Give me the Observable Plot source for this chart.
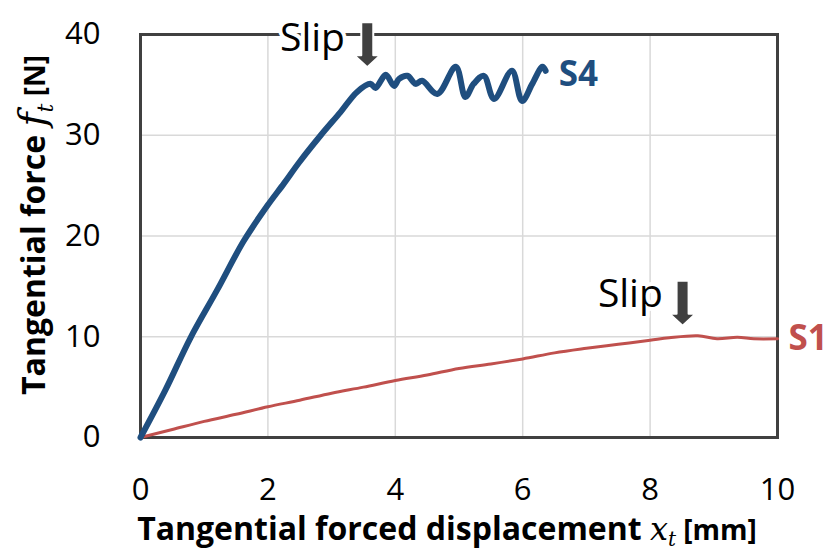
<!DOCTYPE html>
<html><head><meta charset="utf-8">
<script src="https://cdn.jsdelivr.net/npm/d3@7"></script>
<script src="https://cdn.jsdelivr.net/npm/@observablehq/plot@0.6"></script>
<style>body{margin:0;background:#fff}#chart{width:831px;height:554px}</style>
</head><body><div id="chart"></div>
<script>
// S4 series (tangential forced displacement [mm], tangential force [N])
const s4X = [0, 0.39, 0.785, 1.2, 1.62, 1.99, 2.25, 2.49, 2.83, 3.14, 3.40, 3.61, 3.69, 3.85, 3.98, 4.06, 4.19, 4.32, 4.42, 4.66, 4.95, 5.10, 5.23, 5.39, 5.55, 5.83, 5.99, 6.15, 6.31, 6.36];
const s4Y = [0, 4.7, 9.9, 14.6, 19.5, 23.0, 25.2, 27.3, 30.0, 32.3, 34.3, 35.1, 34.7, 36.0, 34.9, 35.6, 35.9, 35.1, 35.4, 34.1, 36.8, 33.8, 35.1, 35.9, 33.6, 36.4, 33.4, 35.1, 36.8, 36.4];
// S1 series
const s1X = [0, 0.5, 1, 1.5, 2, 2.5, 3, 3.5, 4, 4.5, 5, 5.5, 6, 6.5, 7, 7.5, 8, 8.3, 8.75, 9.05, 9.37, 9.63, 10];
const s1Y = [0, 0.8, 1.6, 2.3, 3.05, 3.7, 4.4, 5.0, 5.65, 6.2, 6.85, 7.3, 7.8, 8.4, 8.85, 9.25, 9.65, 9.9, 10.1, 9.8, 9.95, 9.8, 9.8];

const xTicks = [0, 2, 4, 6, 8, 10];
const yTicks = [0, 10, 20, 30, 40];
const seriesNames = ["S4", "S1"];
const slipLabels = ["Slip", "Slip"];
const slipLabelX = [2.70, 7.69];
const slipLabelY = [39.65, 14.24];
const arrowTipX = [3.56, 8.51];
const arrowTipY = [36.75, 11.1];

const BLUE = "#1f4e7f", RED = "#c0504d", DARK = "#404040";
const FONT = "'Open Sans', sans-serif";

const s4 = s4X.map((x, i) => ({x, y: s4Y[i]}));
const s1 = s1X.map((x, i) => ({x, y: s1Y[i]}));
const s4Label = [{name: seriesNames[0], x: s4X[s4X.length - 1], y: s4Y[s4Y.length - 1]}];
const s1Label = [{name: seriesNames[1], x: s1X[s1X.length - 1], y: s1Y[s1Y.length - 1]}];
const slips = slipLabels.map((t, i) => ({t, x: slipLabelX[i], y: slipLabelY[i]}));
const arrows = arrowTipX.map((x, i) => ({x, y: arrowTipY[i]}));

const blockArrow = {
  draw(context, l) {
    const sw = 6, hw = 13, hl = 12;
    context.moveTo(-sw, 0);
    context.lineTo(-sw, -(l - hl));
    context.lineTo(-hw, -(l - hl));
    context.lineTo(0, -l);
    context.lineTo(hw, -(l - hl));
    context.lineTo(sw, -(l - hl));
    context.lineTo(sw, 0);
    context.closePath();
  }
};

const svg = Plot.plot({
  width: 831,
  height: 554,
  marginLeft: 140,
  marginRight: 54,
  marginTop: 34,
  marginBottom: 117,
  style: {fontFamily: FONT, fontSize: "31px", color: "#000", background: "#fff", overflow: "visible"},
  x: {domain: [0, 10], ticks: xTicks, tickSize: 0, tickPadding: 40, label: null},
  y: {domain: [0, 40], ticks: yTicks, tickSize: 0, tickPadding: 40, label: null},
  marks: [
    Plot.gridX(xTicks, {stroke: "#d9d9d9", strokeOpacity: 1, strokeWidth: 1.5}),
    Plot.gridY(yTicks, {stroke: "#d9d9d9", strokeOpacity: 1, strokeWidth: 1.5}),
    Plot.frame({stroke: DARK, strokeWidth: 3}),
    Plot.line(s1, {x: "x", y: "y", stroke: RED, strokeWidth: 3, curve: "catmull-rom"}),
    Plot.line(s4, {x: "x", y: "y", stroke: BLUE, strokeWidth: 6, curve: "catmull-rom"}),
    Plot.text(s4Label, {x: "x", y: "y", text: "name", fill: BLUE, dx: 13, dy: 4, textAnchor: "start", fontWeight: "bold", fontSize: 35}),
    Plot.text(s1Label, {x: "x", y: "y", text: "name", fill: RED, dx: 11, dy: 0, textAnchor: "start", fontWeight: "bold", fontSize: 35}),
    Plot.text(slips, {x: "x", y: "y", text: "t", fill: "#000", stroke: "white", strokeWidth: 8, fontSize: 39}),
    Plot.vector(arrows, {x: "x", y: "y", length: 45, rotate: 180, anchor: "end", shape: blockArrow, fill: DARK, stroke: "white", strokeWidth: 2})
  ]
});
document.getElementById("chart").appendChild(svg);

const root = d3.select(svg);
const serif = "'DejaVu Serif', serif";
// x axis title
const xt = root.append("text")
  .attr("x", 447).attr("y", 540)
  .attr("text-anchor", "middle")
  .attr("font-family", FONT).attr("font-weight", "bold").attr("font-size", 32).attr("fill", "#000");
xt.append("tspan").text("Tangential forced displacement ");
xt.append("tspan").attr("font-family", serif).attr("font-style", "italic").attr("font-weight", "normal").attr("font-size", 32).text("x");
xt.append("tspan").attr("font-family", serif).attr("font-style", "italic").attr("font-weight", "normal").attr("font-size", 20).attr("dy", 6).text("t");
xt.append("tspan").attr("font-size", 28).attr("dy", -6).text(" [mm]");

// y axis title
const yt = root.append("text")
  .attr("transform", "translate(45,225) rotate(-90)")
  .attr("text-anchor", "middle")
  .attr("font-family", FONT).attr("font-weight", "bold").attr("font-size", 32).attr("fill", "#000");
yt.append("tspan").text("Tangential force ");
yt.append("tspan").attr("font-family", serif).attr("font-style", "italic").attr("font-weight", "normal").attr("font-size", 38).text("f");
yt.append("tspan").attr("font-family", serif).attr("font-style", "italic").attr("font-weight", "normal").attr("font-size", 22).attr("dy", 8).text("t");
yt.append("tspan").attr("font-size", 28).attr("dy", -8).text(" [N]");
</script>
</body></html>
